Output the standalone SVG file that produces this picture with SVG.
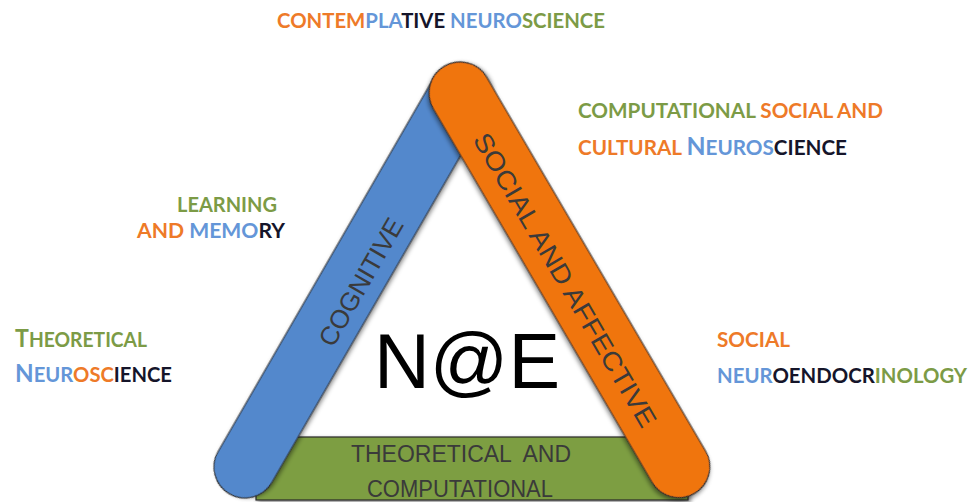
<svg xmlns="http://www.w3.org/2000/svg" width="972" height="502" viewBox="0 0 972 502">
  <defs>
    <filter id="shadow" x="-20%" y="-20%" width="140%" height="140%">
      <feDropShadow dx="2" dy="2" stdDeviation="2" flood-color="#000" flood-opacity="0.45"/>
    </filter>
    <style>
      .bar { stroke: #2a2a2a; stroke-width: 1.2; filter: url(#shadow); }
      .barText { font-family: "Liberation Sans", Arial, sans-serif; fill: #3a3a3a; text-anchor: middle; }
      .lbl { font-family: Lato, "Open Sans", "Liberation Sans", sans-serif; font-weight: 700; font-size: 20px; }
      .o { fill: #EE7A28; }
      .b { fill: #6496D8; }
      .g { fill: #7C9B46; }
      .k { fill: #15152a; }
      .big { font-size: 24px; }
    </style>
  </defs>
  <rect width="972" height="502" fill="#ffffff"/>

  <g id="connectors"/>

  <g id="bar-theoretical">
    <rect class="bar" x="256" y="437" width="432" height="63" fill="#7D9E42"/>
    <text class="barText" x="461" y="462" font-size="23" textLength="220" lengthAdjust="spacingAndGlyphs" xml:space="preserve">THEORETICAL  AND</text>
    <text class="barText" x="460" y="497" font-size="23" textLength="186" lengthAdjust="spacingAndGlyphs">COMPUTATIONAL</text>
  </g>

  <g id="bar-cognitive">
    <rect class="bar" transform="translate(245,467) rotate(-60)" x="-31" y="-31" width="491" height="62" rx="31" ry="31" fill="#5288CC"/>
    <text class="barText" transform="translate(361,282) rotate(-60)" x="0" y="9" font-size="26" textLength="143" lengthAdjust="spacingAndGlyphs">COGNITIVE</text>
  </g>

  <g id="bar-social">
    <rect class="bar" transform="translate(460,93) rotate(59.65)" x="-31" y="-31" width="495" height="62" rx="31" ry="31" fill="#F07510"/>
    <text class="barText" transform="translate(565,280) rotate(59.65)" x="0" y="9" font-size="26" textLength="336" lengthAdjust="spacingAndGlyphs">SOCIAL AND AFFECTIVE</text>
  </g>

  <g id="center">
    <text x="467" y="388" font-family="'Liberation Sans', Arial, sans-serif" font-size="78" fill="#000" text-anchor="middle" textLength="186" lengthAdjust="spacingAndGlyphs">N@E</text>
  </g>

  <g id="label-contemplative">
    <text class="lbl" x="277" y="28" textLength="328" lengthAdjust="spacingAndGlyphs"><tspan class="o">CONTEM</tspan><tspan class="b">PLA</tspan><tspan class="k">TIVE</tspan><tspan class="b"> NEURO</tspan><tspan class="g">SCIENCE</tspan></text>
  </g>

  <g id="label-computational-social">
    <text class="lbl" x="578" y="118" textLength="305" lengthAdjust="spacingAndGlyphs"><tspan class="g">COMPUTATIONAL</tspan><tspan class="o"> SOCIAL AND</tspan></text>
    <text class="lbl" x="578" y="155" textLength="269" lengthAdjust="spacingAndGlyphs"><tspan class="o">CULTURAL </tspan><tspan class="b big">N</tspan><tspan class="b">EUROS</tspan><tspan class="k">CIENCE</tspan></text>
  </g>

  <g id="label-learning">
    <text class="lbl g" x="177" y="212" textLength="100" lengthAdjust="spacingAndGlyphs">LEARNING</text>
    <text class="lbl" x="137" y="238" textLength="148" lengthAdjust="spacingAndGlyphs"><tspan class="o">AND</tspan><tspan class="b"> MEMO</tspan><tspan class="k">RY</tspan></text>
  </g>

  <g id="label-theoretical">
    <text class="lbl" x="15" y="347" textLength="132" lengthAdjust="spacingAndGlyphs"><tspan class="g big">T</tspan><tspan class="g">HEORETICAL</tspan></text>
    <text class="lbl" x="15" y="382" textLength="157" lengthAdjust="spacingAndGlyphs"><tspan class="b big">N</tspan><tspan class="b">EUR</tspan><tspan class="o">OSC</tspan><tspan class="k">IENCE</tspan></text>
  </g>

  <g id="label-social-neuro">
    <text class="lbl o" x="717" y="347" textLength="73" lengthAdjust="spacingAndGlyphs">SOCIAL</text>
    <text class="lbl" x="717" y="383" textLength="250" lengthAdjust="spacingAndGlyphs"><tspan class="b">NEUR</tspan><tspan class="k">OENDOCR</tspan><tspan class="g">INOLOGY</tspan></text>
  </g>
</svg>
